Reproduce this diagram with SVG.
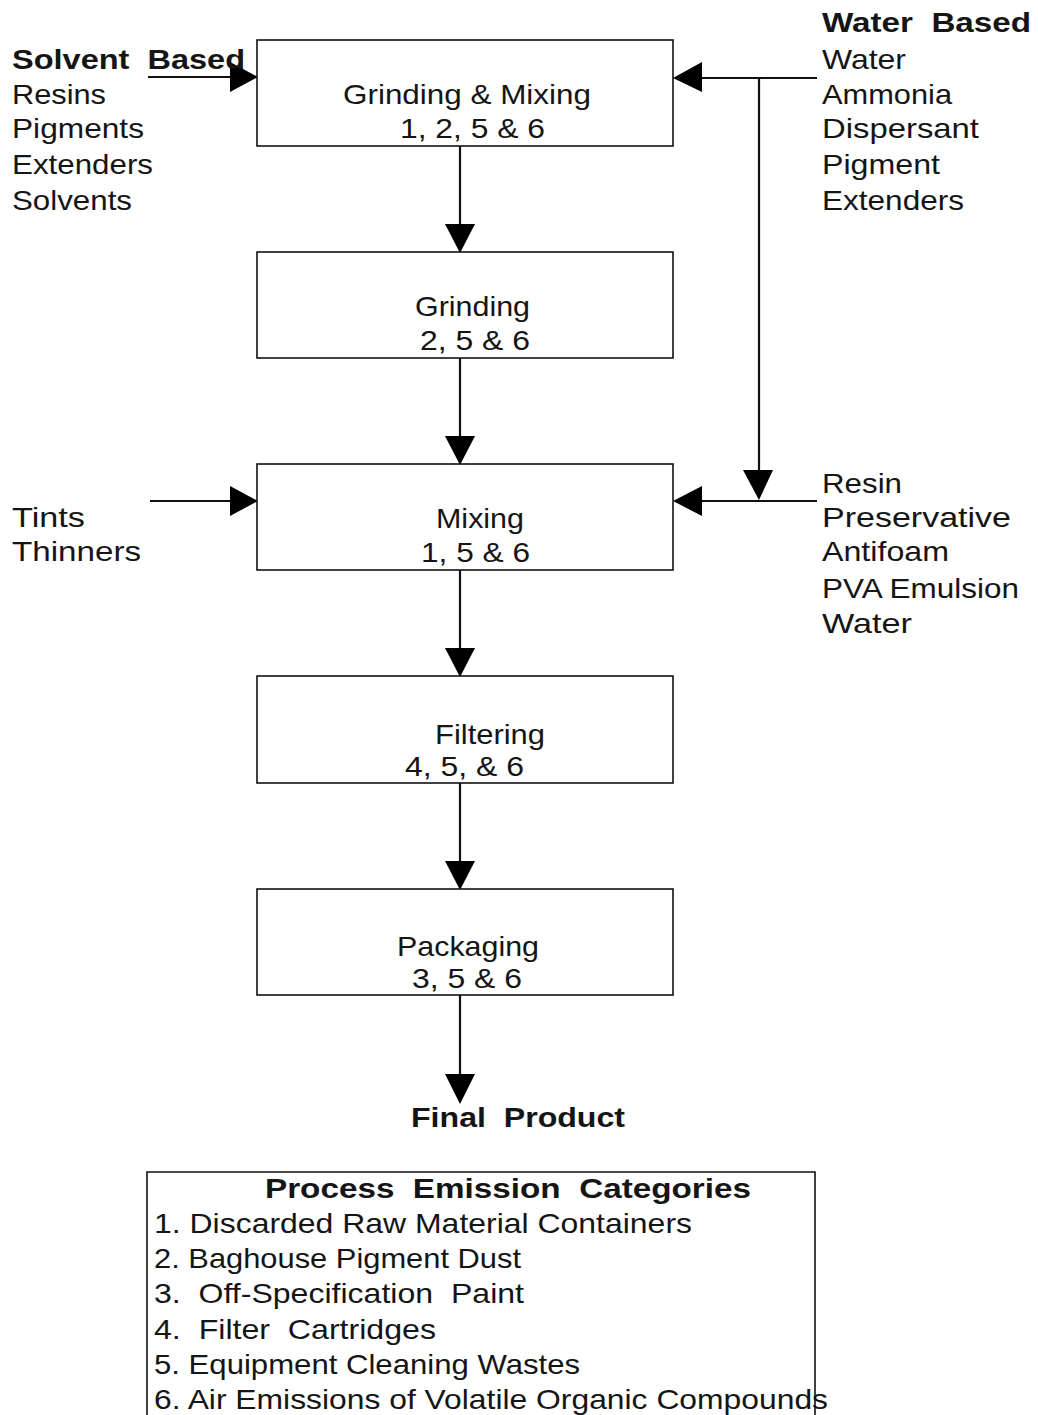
<svg xmlns="http://www.w3.org/2000/svg" width="1038" height="1415" viewBox="0 0 1038 1415">
<style>
text{font-family:"Liberation Sans",Arial,sans-serif;font-size:28px;fill:#151515;white-space:pre}
.b{font-weight:bold}
.box{fill:#fff;stroke:#111;stroke-width:1.6}
.ln{stroke:#111;stroke-width:2.2;fill:none}
.ah{fill:#000}
</style>
<rect width="1038" height="1415" fill="#fff"/>
<g id="connectors">
<line class="ln" x1="460" y1="146" x2="460" y2="228"/>
<polygon class="ah" points="445,224 475,224 460,253"/>
<line class="ln" x1="460" y1="358" x2="460" y2="440"/>
<polygon class="ah" points="445,436 475,436 460,465"/>
<line class="ln" x1="460" y1="570" x2="460" y2="652"/>
<polygon class="ah" points="445,648 475,648 460,677"/>
<line class="ln" x1="460" y1="783" x2="460" y2="865"/>
<polygon class="ah" points="445,861 475,861 460,890"/>
<line class="ln" x1="460" y1="995" x2="460" y2="1078"/>
<polygon class="ah" points="445,1074 475,1074 460,1104"/>
<line class="ln" x1="148" y1="77" x2="232" y2="77"/>
<polygon class="ah" points="230,62 230,92 258,77"/>
<line class="ln" x1="150" y1="501" x2="232" y2="501"/>
<polygon class="ah" points="230,486 230,516 258,501"/>
<line class="ln" x1="817" y1="78" x2="700" y2="78"/>
<polygon class="ah" points="702,62 702,92 673,78"/>
<line class="ln" x1="759" y1="78" x2="759" y2="472"/>
<polygon class="ah" points="743,470 773,470 759,500"/>
<line class="ln" x1="817" y1="501" x2="700" y2="501"/>
<polygon class="ah" points="702,486 702,516 673,501"/>
</g>
<g id="n-grinding-mixing">
<rect class="box" x="257" y="40" width="416" height="106"/>
<text x="343" y="104" textLength="248" lengthAdjust="spacingAndGlyphs">Grinding &amp; Mixing</text>
<text x="400" y="138" textLength="145" lengthAdjust="spacingAndGlyphs">1, 2, 5 &amp; 6</text>
</g>
<g id="n-grinding">
<rect class="box" x="257" y="252" width="416" height="106"/>
<text x="415" y="316" textLength="115" lengthAdjust="spacingAndGlyphs">Grinding</text>
<text x="420" y="350" textLength="110" lengthAdjust="spacingAndGlyphs">2, 5 &amp; 6</text>
</g>
<g id="n-mixing">
<rect class="box" x="257" y="464" width="416" height="106"/>
<text x="436" y="528" textLength="88" lengthAdjust="spacingAndGlyphs">Mixing</text>
<text x="421" y="562" textLength="109" lengthAdjust="spacingAndGlyphs">1, 5 &amp; 6</text>
</g>
<g id="n-filtering">
<rect class="box" x="257" y="676" width="416" height="107"/>
<text x="435" y="744" textLength="110" lengthAdjust="spacingAndGlyphs">Filtering</text>
<text x="405" y="776" textLength="119" lengthAdjust="spacingAndGlyphs">4, 5, &amp; 6</text>
</g>
<g id="n-packaging">
<rect class="box" x="257" y="889" width="416" height="106"/>
<text x="397" y="956" textLength="142" lengthAdjust="spacingAndGlyphs">Packaging</text>
<text x="412" y="988" textLength="110" lengthAdjust="spacingAndGlyphs">3, 5 &amp; 6</text>
</g>
<g id="n-final-product">
<text class="b" x="411" y="1127" textLength="214" lengthAdjust="spacingAndGlyphs" xml:space="preserve">Final  Product</text>
</g>
<g id="n-solvent-based">
<text class="b" x="12" y="69" textLength="233" lengthAdjust="spacingAndGlyphs" xml:space="preserve">Solvent  Based</text>
<text x="12" y="104" textLength="94" lengthAdjust="spacingAndGlyphs">Resins</text>
<text x="12" y="138" textLength="132" lengthAdjust="spacingAndGlyphs">Pigments</text>
<text x="12" y="174" textLength="141" lengthAdjust="spacingAndGlyphs">Extenders</text>
<text x="12" y="210" textLength="120" lengthAdjust="spacingAndGlyphs">Solvents</text>
</g>
<g id="n-tints">
<text x="12" y="527" textLength="73" lengthAdjust="spacingAndGlyphs">Tints</text>
<text x="12" y="561" textLength="129" lengthAdjust="spacingAndGlyphs">Thinners</text>
</g>
<g id="n-water-based">
<text class="b" x="822" y="32" textLength="209" lengthAdjust="spacingAndGlyphs" xml:space="preserve">Water  Based</text>
<text x="822" y="69" textLength="84" lengthAdjust="spacingAndGlyphs">Water</text>
<text x="822" y="104" textLength="130" lengthAdjust="spacingAndGlyphs">Ammonia</text>
<text x="822" y="138" textLength="157" lengthAdjust="spacingAndGlyphs">Dispersant</text>
<text x="822" y="174" textLength="118" lengthAdjust="spacingAndGlyphs">Pigment</text>
<text x="822" y="210" textLength="142" lengthAdjust="spacingAndGlyphs">Extenders</text>
</g>
<g id="n-water-additives">
<text x="822" y="493" textLength="80" lengthAdjust="spacingAndGlyphs">Resin</text>
<text x="822" y="527" textLength="189" lengthAdjust="spacingAndGlyphs">Preservative</text>
<text x="822" y="561" textLength="127" lengthAdjust="spacingAndGlyphs">Antifoam</text>
<text x="822" y="598" textLength="197" lengthAdjust="spacingAndGlyphs">PVA Emulsion</text>
<text x="822" y="633" textLength="90" lengthAdjust="spacingAndGlyphs">Water</text>
</g>
<g id="n-legend">
<path class="box" d="M147,1415 V1172 H815 V1415" style="fill:none"/>
<text class="b" x="265" y="1198" textLength="486" lengthAdjust="spacingAndGlyphs" xml:space="preserve">Process  Emission  Categories</text>
<text x="154" y="1233" textLength="538" lengthAdjust="spacingAndGlyphs">1. Discarded Raw Material Containers</text>
<text x="154" y="1268" textLength="367" lengthAdjust="spacingAndGlyphs">2. Baghouse Pigment Dust</text>
<text x="154" y="1303" textLength="370" lengthAdjust="spacingAndGlyphs" xml:space="preserve">3.  Off-Specification  Paint</text>
<text x="154" y="1339" textLength="282" lengthAdjust="spacingAndGlyphs" xml:space="preserve">4.  Filter  Cartridges</text>
<text x="154" y="1374" textLength="426" lengthAdjust="spacingAndGlyphs">5. Equipment Cleaning Wastes</text>
<text x="154" y="1409" textLength="674" lengthAdjust="spacingAndGlyphs">6. Air Emissions of Volatile Organic Compounds</text>
</g>
</svg>
